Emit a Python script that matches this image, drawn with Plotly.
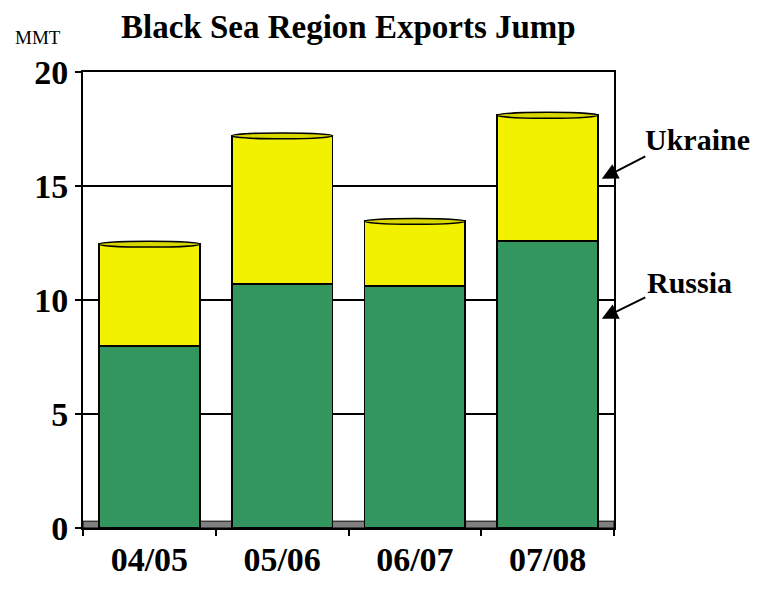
import plotly.graph_objects as go

years = ["04/05", "05/06", "06/07", "07/08"]
russia = [8.0, 10.7, 10.6, 12.6]
ukraine = [4.45, 6.5, 2.85, 5.5]
y_ticks = [0, 5, 10, 15, 20]

FONT = "Liberation Serif"

fig = go.Figure()
fig.add_trace(go.Bar(x=years, y=russia, name="Russia",
                     marker=dict(color="#33965F", line=dict(color="black", width=1.8))))
fig.add_trace(go.Bar(x=years, y=ukraine, name="Ukraine",
                     marker=dict(color="#F2F200", line=dict(color="black", width=1.8))))

# cylinder caps derived from data
shapes = []
for i, (r, u) in enumerate(zip(russia, ukraine)):
    tot = r + u
    shapes.append(dict(type="circle", xref="x", yref="y", x0=i - 0.38, x1=i + 0.38,
                       y0=tot - 0.13, y1=tot + 0.13, fillcolor="#D8D800",
                       line=dict(color="black", width=1.5), layer="above"))
# floor
shapes.append(dict(type="rect", xref="paper", yref="y", x0=0, x1=1, y0=0, y1=0.3,
                   fillcolor="#808080", line=dict(color="black", width=1), layer="below"))

fig.update_layout(
    width=771, height=590,
    margin=dict(l=83, r=157, t=72, b=56),
    barmode="stack", bargap=0.24,
    plot_bgcolor="white", paper_bgcolor="white",
    showlegend=False,
    font=dict(family=FONT, color="black"),
    shapes=shapes,
    xaxis=dict(showline=True, linecolor="black", linewidth=2, mirror=True,
               ticks="outside", tickson="boundaries", ticklen=6, tickwidth=2,
               tickcolor="black", tickmode="array", tickvals=years,
               ticktext=[f"<b>{t}</b>" for t in years],
               tickfont=dict(size=34, family=FONT, color="black"),
               showgrid=False),
    yaxis=dict(range=[0, 20], tickmode="array", tickvals=y_ticks,
               ticktext=[f"<b>{t}</b>" for t in y_ticks],
               showline=True, linecolor="black",
               linewidth=2, mirror=True, ticks="outside", ticklen=6, tickwidth=2,
               tickcolor="black", tickfont=dict(size=34, family=FONT, color="black"),
               showgrid=True, gridcolor="black", gridwidth=1.5, zeroline=False),
    annotations=[
        dict(text="<b>Black Sea Region Exports Jump</b>", xref="paper", yref="paper",
             x=0.5, y=1, xanchor="center", yanchor="bottom", yshift=25,
             xshift=0, showarrow=False, font=dict(size=33, family=FONT)),
        dict(text="MMT", xref="paper", yref="paper", x=0, y=1, xanchor="left",
             yanchor="bottom", xshift=-70, yshift=22, showarrow=False,
             font=dict(size=19, family=FONT)),
        dict(text="<b>Ukraine</b>", xref="paper", yref="paper", x=1.158, y=0.851,
             xanchor="center", yanchor="middle",
             showarrow=False, font=dict(size=30, family=FONT)),
        dict(text="<b>Russia</b>", xref="paper", yref="paper", x=1.143, y=0.539,
             xanchor="center", yanchor="middle",
             showarrow=False, font=dict(size=30, family=FONT)),
        dict(text="", xref="paper", yref="paper", x=0.977, y=0.766, ax=45, ay=-23,
             showarrow=True, arrowhead=2, arrowsize=1.6, arrowwidth=2, arrowcolor="black"),
        dict(text="", xref="paper", yref="paper", x=0.977, y=0.459, ax=45, ay=-22,
             showarrow=True, arrowhead=2, arrowsize=1.6, arrowwidth=2, arrowcolor="black"),
    ],
)

fig.write_html("out.html")
